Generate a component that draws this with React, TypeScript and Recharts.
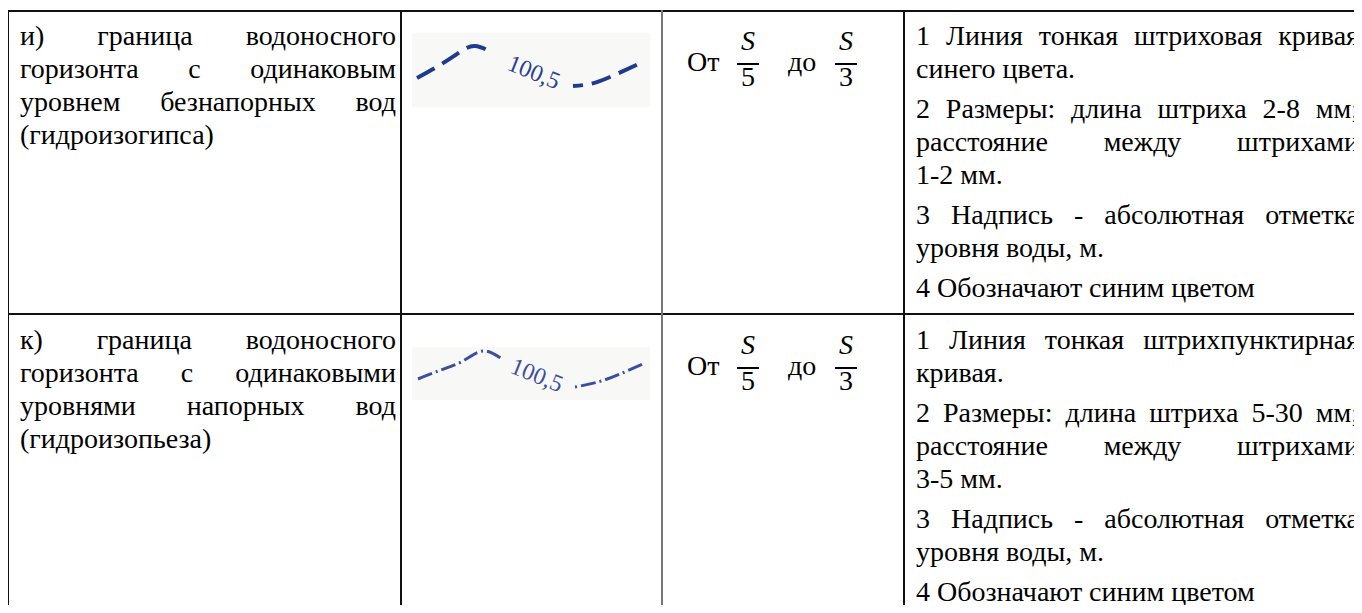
import React from "react";
import { LineChart, Line, XAxis, YAxis, ReferenceDot } from "recharts";

// column 1: object names, one line per entry
const rowNames = [
  ["и) граница водоносного", "горизонта с одинаковым", "уровнем безнапорных вод", "(гидроизогипса)"],
  ["к) граница водоносного", "горизонта с одинаковыми", "уровнями напорных вод", "(гидроизопьеза)"],
];

// column 3: scale range S/a .. S/b
const scaleFrom = ["5", "5"];
const scaleTo = ["3", "3"];

// column 4: notes, paragraphs split into printed lines
const notes = [
  [
    ["1 Линия тонкая штриховая кривая", "синего цвета."],
    ["2 Размеры: длина штриха 2-8 мм;", "расстояние между штрихами", "1-2 мм."],
    ["3 Надпись - абсолютная отметка", "уровня воды, м."],
    ["4 Обозначают синим цветом"],
  ],
  [
    ["1 Линия тонкая штрихпунктирная", "кривая."],
    ["2 Размеры: длина штриха 5-30 мм;", "расстояние между штрихами", "3-5 мм."],
    ["3 Надпись - абсолютная отметка", "уровня воды, м."],
    ["4 Обозначают синим цветом"],
  ],
];

// symbol curves (x along the sample, y = height above its lower edge)
const hypsLeft = [
  { x: 5, y: 29 }, { x: 28, y: 42 }, { x: 48, y: 55 }, { x: 63, y: 61 }, { x: 81, y: 54 },
];
const hypsRight = [
  { x: 161, y: 21 }, { x: 178, y: 23 }, { x: 198, y: 30 }, { x: 233, y: 46 },
];
const piezLeft = [
  { x: 6, y: 21 }, { x: 29, y: 30 }, { x: 51, y: 39 }, { x: 71, y: 49 }, { x: 90, y: 41 },
];
const piezRight = [
  { x: 163, y: 13 }, { x: 186, y: 18 }, { x: 208, y: 26 }, { x: 233, y: 37 },
];
const levelLabel = "100,5";

const ROW_SHIFT = 304;

function TextLine({ x, base, width, justify, italic, center, children }: any) {
  return (
    <div
      style={{
        position: "absolute",
        left: x - 8,
        top: base - 26 - 8,
        width,
        fontFamily: "Liberation Serif",
        fontSize: 28,
        lineHeight: "33px",
        fontStyle: italic ? "italic" : "normal",
        textAlign: justify ? "justify" : center ? "center" : "left",
        textAlignLast: justify ? "justify" : center ? "center" : "left",
      }}
    >
      {children}
    </div>
  );
}

function Frac({ x, base, den }: any) {
  return (
    <>
      <TextLine x={x} base={base - 21} width={22} italic center>S</TextLine>
      <div style={{ position: "absolute", left: x - 8, top: base - 8 - 8, width: 22, height: 2, background: "#000" }} />
      <TextLine x={x} base={base + 15} width={22} center>{den}</TextLine>
    </>
  );
}

function Symbol({ left, top, w, h, a, b, label, color, textColor, sw, dash, offset }: any) {
  return (
    <div style={{ position: "absolute", left: left - 8, top: top - 8, width: w, height: h, background: "#f8f9f6" }}>
      <LineChart width={w} height={h} margin={{ top: 0, right: 0, bottom: 0, left: 0 }}>
        <XAxis type="number" dataKey="x" domain={[0, w]} hide />
        <YAxis type="number" dataKey="y" domain={[0, h]} hide />
        <Line data={a} dataKey="y" type="natural" stroke={color} strokeWidth={sw} strokeDasharray={dash} dot={false} activeDot={false} isAnimationActive={false} />
        <Line data={b} dataKey="y" type="natural" stroke={color} strokeWidth={sw} strokeDasharray={dash} strokeDashoffset={offset} dot={false} activeDot={false} isAnimationActive={false} />
        <ReferenceDot
          x={label.x}
          y={label.y}
          r={0}
          ifOverflow="visible"
          shape={(p: any) => (
            <text
              x={p.cx}
              y={p.cy}
              transform={`rotate(22 ${p.cx} ${p.cy})`}
              textAnchor="middle"
              dominantBaseline="central"
              fill={textColor}
              fontFamily="Liberation Serif"
              fontSize={24}
            >
              {levelLabel}
            </text>
          )}
        />
      </LineChart>
    </div>
  );
}

const vline = (x: number, color = "#111", wdt = 2) => (
  <div style={{ position: "absolute", left: x - 8, top: 2, width: wdt, height: 620, background: color }} />
);
const hline = (y: number) => (
  <div style={{ position: "absolute", left: 0, top: y - 8, width: 1400, height: 2, background: "#111" }} />
);

export default function App() {
  return (
    <div style={{ position: "relative", width: 1354, height: 605, marginBottom: -8, overflow: "hidden", color: "#000", fontFamily: "Liberation Serif" }}>
      {hline(10)}
      {hline(313)}
      {vline(8, "#111", 1)}
      {vline(400)}
      {vline(661, "#777")}
      {vline(903)}

      {rowNames.map((lines, r) =>
        lines.map((t, i) => (
          <TextLine key={`n${r}${i}`} x={20} base={45 + r * ROW_SHIFT + i * 33} width={376} justify={i < lines.length - 1}>
            {t}
          </TextLine>
        ))
      )}

      {scaleFrom.map((d, r) => (
        <React.Fragment key={`s${r}`}>
          <TextLine x={687} base={71 + r * ROW_SHIFT} width={40}>От</TextLine>
          <Frac x={737} base={71 + r * ROW_SHIFT} den={d} />
          <TextLine x={788} base={71 + r * ROW_SHIFT} width={40}>до</TextLine>
          <Frac x={835} base={71 + r * ROW_SHIFT} den={scaleTo[r]} />
        </React.Fragment>
      ))}

      {notes.map((paras, r) => {
        let base = 45 + r * ROW_SHIFT;
        const out: any[] = [];
        paras.forEach((lines, p) => {
          if (p > 0) base += 7;
          lines.forEach((t, i) => {
            out.push(
              <TextLine key={`t${r}${p}${i}`} x={916} base={base} width={443} justify={i < lines.length - 1}>
                {t}
              </TextLine>
            );
            base += 33;
          });
        });
        return out;
      })}

      <Symbol left={412} top={33} w={238} h={74} a={hypsLeft} b={hypsRight} label={{ x: 122, y: 35 }}
        color="#1f3a8f" textColor="#2b3f94" sw={4} dash="20 9" offset={10} />
      <Symbol left={412} top={347} w={238} h={53} a={piezLeft} b={piezRight} label={{ x: 125, y: 25 }}
        color="#3c4ea0" textColor="#3c4ea0" sw={3} dash="15 4 2 4" offset={19} />
    </div>
  );
}
